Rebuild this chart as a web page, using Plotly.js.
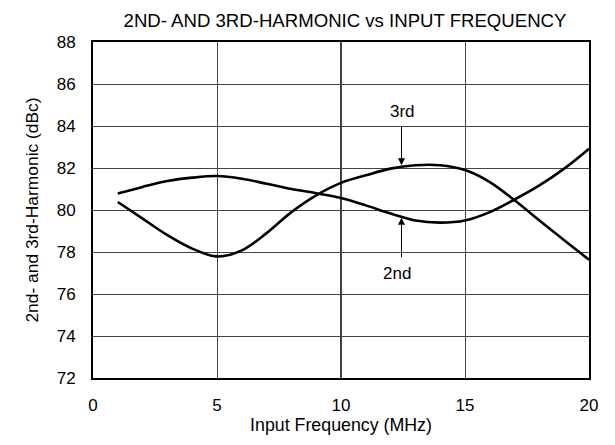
<!DOCTYPE html>
<html>
<head>
<meta charset="utf-8">
<script src="https://cdn.plot.ly/plotly-3.0.1.min.js"></script>
<style>html,body{margin:0;padding:0;background:#fff;}#chart{width:615px;height:445px;}</style>
</head>
<body>
<div id="chart"></div>
<script>
// Input frequency (MHz) and harmonic levels (dBc)
var freq   = [1, 2, 3, 4, 5, 6, 7, 8, 9, 10, 11, 12, 13, 14, 15, 16, 17, 18, 19, 20];
var second = [80.78, 81.10, 81.38, 81.54, 81.62, 81.49, 81.25, 81.00, 80.80, 80.57, 80.22, 79.83, 79.50, 79.40, 79.50, 79.90, 80.50, 81.17, 81.97, 82.92];
var third  = [80.38, 79.59, 78.80, 78.16, 77.79, 78.08, 78.90, 79.90, 80.70, 81.29, 81.65, 81.97, 82.13, 82.13, 81.90, 81.33, 80.46, 79.50, 78.56, 77.63];

var xTicks = [0, 5, 10, 15, 20];
var yTicks = [72, 74, 76, 78, 80, 82, 84, 86, 88];

var FONT = 'Liberation Sans, Arial, Helvetica, sans-serif';

var traces = [
  {x: freq, y: second, mode: 'lines', name: '2nd',
   line: {color: '#000', width: 2.6, shape: 'spline', smoothing: 1}},
  {x: freq, y: third, mode: 'lines', name: '3rd',
   line: {color: '#000', width: 2.6, shape: 'spline', smoothing: 1}}
];

var layout = {
  width: 615, height: 445,
  margin: {l: 93, r: 26, t: 42, b: 67},
  paper_bgcolor: '#fff', plot_bgcolor: '#fff',
  showlegend: false,
  font: {family: FONT, size: 17, color: '#000'},
  title: {text: '2ND- AND 3RD-HARMONIC vs INPUT FREQUENCY', font: {family: FONT, size: 18.6, color: '#000'},
          x: 0.561, xanchor: 'center', y: 0.955, yanchor: 'middle'},
  xaxis: {range: [0, 20], tickvals: xTicks, ticktext: xTicks.map(String),
          showgrid: true, gridcolor: '#444', gridwidth: 1, zeroline: false,
          showline: true, linecolor: '#000', linewidth: 2, mirror: true,
          ticks: 'outside', ticklen: 11, tickcolor: 'rgba(0,0,0,0)',
          tickfont: {family: FONT, size: 17, color: '#000'},
          title: {text: 'Input Frequency (MHz)', font: {family: FONT, size: 17.8, color: '#000'}, standoff: 4}},
  yaxis: {range: [72, 88], tickvals: yTicks, ticktext: yTicks.map(String),
          showgrid: true, gridcolor: '#444', gridwidth: 1, zeroline: false,
          showline: true, linecolor: '#000', linewidth: 2, mirror: true,
          ticks: 'outside', ticklen: 12, tickcolor: 'rgba(0,0,0,0)',
          tickfont: {family: FONT, size: 17, color: '#000'},
          title: {text: '2nd- and 3rd-Harmonic (dBc)', font: {family: FONT, size: 17.4, color: '#000'}, standoff: 14}},
  shapes: [
    {type: 'line', xref: 'x', yref: 'paper', x0: 10, x1: 10, y0: 0, y1: 1, line: {color: '#000', width: 1.5}, layer: 'below'}
  ],
  annotations: [
    {x: 12.44, y: 82.13, xref: 'x', yref: 'y', ax: 12.44, ay: 84.06, axref: 'x', ayref: 'y',
     text: '', showarrow: true, arrowhead: 2, arrowsize: 1.4, arrowwidth: 1, arrowcolor: '#000'},
    {x: 12.44, y: 79.63, xref: 'x', yref: 'y', ax: 12.44, ay: 77.68, axref: 'x', ayref: 'y',
     text: '', showarrow: true, arrowhead: 2, arrowsize: 1.4, arrowwidth: 1, arrowcolor: '#000'},
    {x: 12.47, y: 84.67, xref: 'x', yref: 'y', text: '3rd', showarrow: false,
     font: {family: FONT, size: 17, color: '#000'}},
    {x: 12.26, y: 77.0, xref: 'x', yref: 'y', text: '2nd', showarrow: false,
     font: {family: FONT, size: 17, color: '#000'}}
  ]
};

Plotly.newPlot('chart', traces, layout, {staticPlot: true, displayModeBar: false});
</script>
</body>
</html>
